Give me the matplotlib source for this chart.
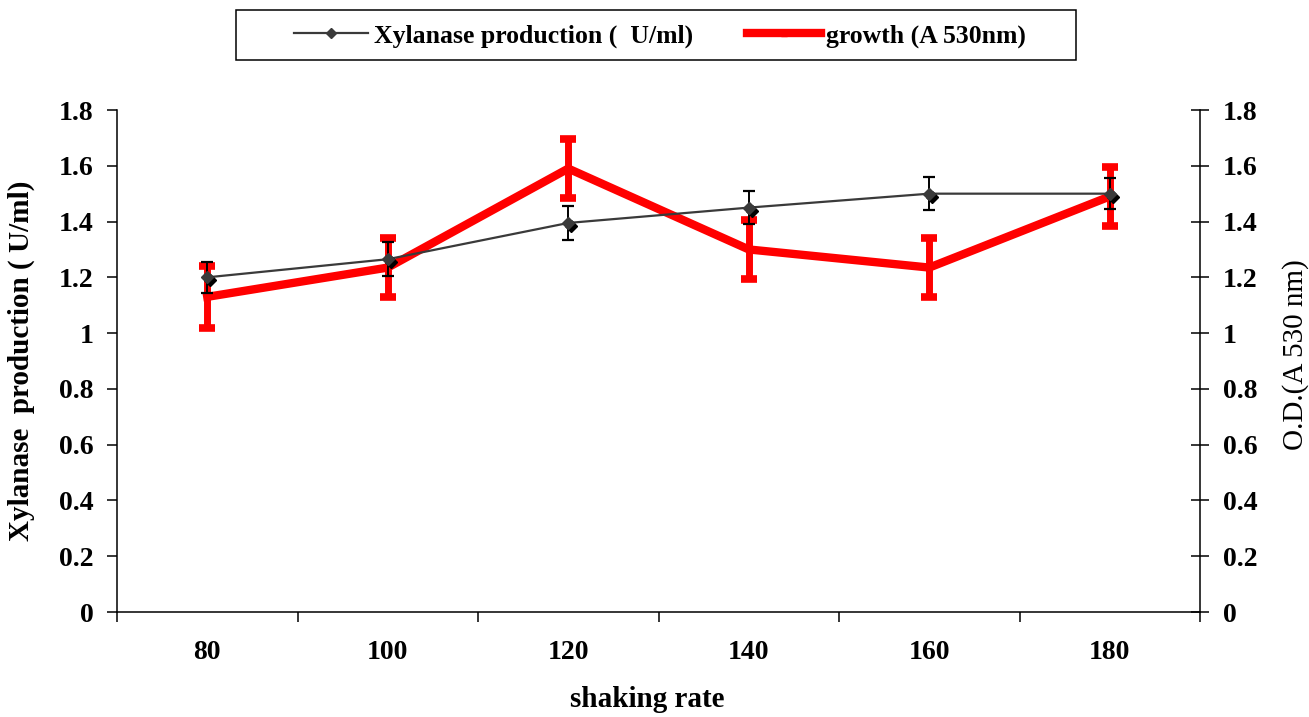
import matplotlib
matplotlib.use("Agg")
import matplotlib.pyplot as plt
import matplotlib.transforms as mtransforms
from matplotlib.lines import Line2D
from matplotlib.patches import Rectangle
import numpy as np

plt.rcParams['font.family'] = ['Liberation Serif', 'DejaVu Serif']

# ---- data ----
x_labels = ['80', '100', '120', '140', '160', '180']
xylanase = [1.20, 1.265, 1.395, 1.45, 1.50, 1.50]
xylanase_err = [0.055, 0.06, 0.06, 0.06, 0.06, 0.055]
growth = [1.13, 1.235, 1.59, 1.30, 1.235, 1.49]
growth_err = [0.11, 0.105, 0.105, 0.105, 0.105, 0.105]
y_ticks = [0, 0.2, 0.4, 0.6, 0.8, 1, 1.2, 1.4, 1.6, 1.8]
y_ticklabels = ['0', '0.2', '0.4', '0.6', '0.8', '1', '1.2', '1.4', '1.6', '1.8']

W, H = 1309, 717
fig = plt.figure(figsize=(W / 100, H / 100), dpi=100)
ax = fig.add_axes([117 / W, 1 - 612 / H, (1200 - 117) / W, (612 - 110) / H])
ax2 = ax.twinx()

xs = np.arange(len(x_labels))

# growth (right axis)
ax2.errorbar(xs, growth, yerr=growth_err, color='#ff0000', lw=6, marker='^', ms=5,
             ecolor='#ff0000', elinewidth=5, capsize=6, capthick=5.5,
             solid_joinstyle='miter', zorder=2)

# xylanase (left axis) on top
ax.set_zorder(ax2.get_zorder() + 1)
ax.patch.set_visible(False)
ax.errorbar(xs, xylanase, yerr=xylanase_err, color='#3a3a3a', lw=1.6,
            ecolor='black', elinewidth=1.4, capsize=4.5, capthick=1.6,
            fmt='none', zorder=3)
ax.plot(xs, xylanase, color='#3a3a3a', lw=1.6, zorder=3)
shift = mtransforms.offset_copy(ax.transData, fig=fig, x=3, y=-3, units='dots')
ax.plot(xs, xylanase, ls='none', marker='D', ms=6.5, color='black', transform=shift, zorder=4)
ax.plot(xs, xylanase, ls='none', marker='D', ms=6.5, color='#3a3a3a', zorder=5)

for a in (ax, ax2):
    a.set_xlim(-0.5, len(x_labels) - 0.5)
    a.set_ylim(0, 1.8)
    a.set_yticks(y_ticks)
    a.set_yticklabels(y_ticklabels)
    a.spines['top'].set_visible(False)

ax.spines['right'].set_visible(False)
ax2.spines['left'].set_visible(False)
ax2.spines['bottom'].set_visible(False)
for s in ('left', 'bottom'):
    ax.spines[s].set_linewidth(1.1)
ax2.spines['right'].set_linewidth(1.1)

ax.set_xticks(np.arange(-0.5, len(x_labels), 1))
ax.set_xticklabels([])
ax.set_xticks(xs, minor=True)
ax.set_xticklabels(x_labels, minor=True)
ax.tick_params(axis='x', which='major', direction='out', length=7, width=1.1)
ax.tick_params(axis='x', which='minor', length=0, pad=20, labelsize=20)
ax.tick_params(axis='y', direction='out', length=7, width=1.1, pad=10, labelsize=20)
ax2.tick_params(axis='y', direction='inout', length=13, width=1.1, pad=10, labelsize=20)

for lab in ax.get_xticklabels(minor=True) + ax.get_yticklabels() + ax2.get_yticklabels():
    lab.set_fontweight('bold')

ax.set_xlabel('shaking rate', fontsize=21, fontweight='bold')
ax.xaxis.set_label_coords(0.49, -0.147)
ax.set_ylabel('Xylanase  production ( U/ml)', fontsize=21, fontweight='bold')
ax.yaxis.set_label_coords(-0.0757, 0.5)
ax2.set_ylabel('O.D.(A 530 nm)', fontsize=21)
ax2.yaxis.set_label_coords(1.0757, 0.512)

# legend with frame drawn as a box at the reference position
fig.patches.append(Rectangle((236 / W, 1 - 60 / H), 840 / W, 50 / H,
                             transform=fig.transFigure, fill=False,
                             edgecolor='black', linewidth=1.1))
h1 = Line2D([], [], color='#3a3a3a', lw=1.6, marker='D', ms=5)
h2 = Line2D([], [], color='#ff0000', lw=6, marker='^', ms=5)
fig.legend([h1, h2], ['Xylanase production (  U/ml)', 'growth (A 530nm)'],
           loc='center', bbox_to_anchor=(660 / W, 1 - 36 / H), ncol=2,
           frameon=False, prop={'weight': 'bold', 'size': 18.5},
           handlelength=2.9, columnspacing=2.1, handletextpad=0.2,
           borderpad=0.3)

fig.savefig('out.png', dpi=100)
